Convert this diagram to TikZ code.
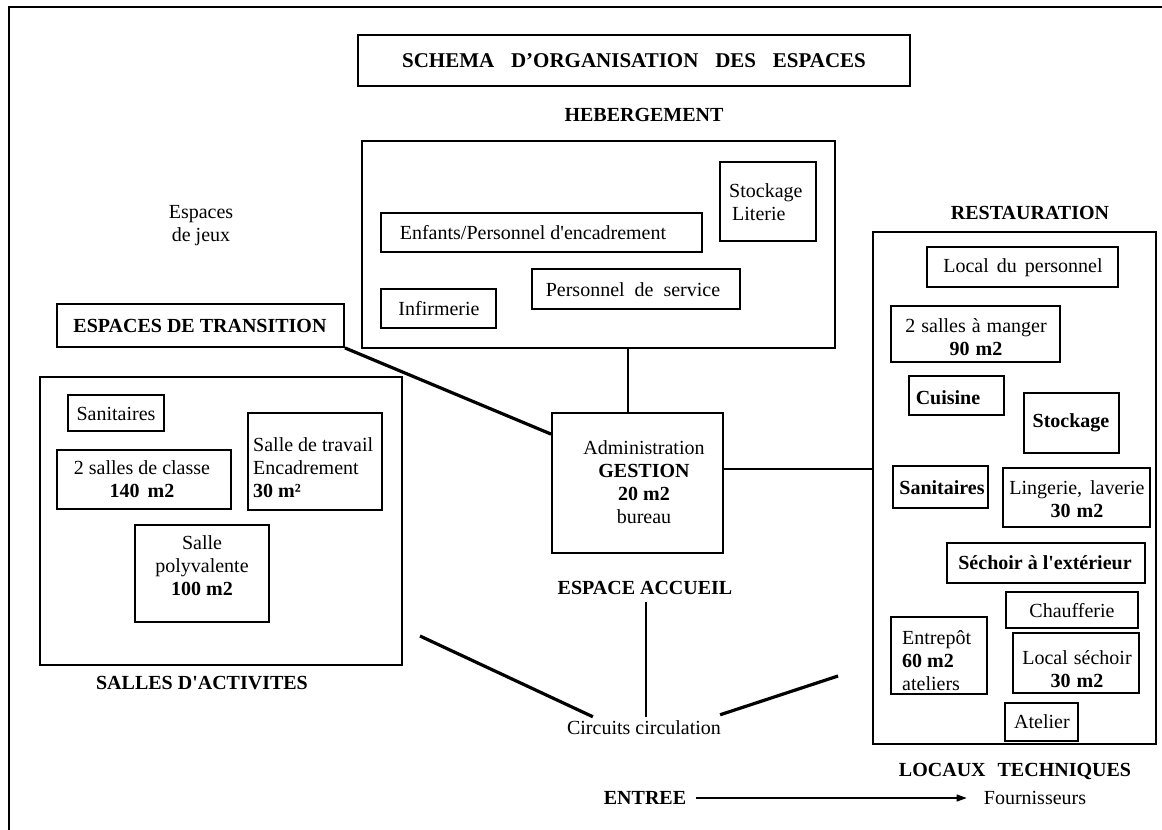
\documentclass[tikz,border=0pt]{standalone}
\usepackage{fontspec}
\setmainfont{Liberation Serif}[Ligatures=TeXOff]
\usetikzlibrary{fit,calc,arrows.meta}
\begin{document}
\begin{tikzpicture}[x=1pt,y=-1pt,
  box/.style={draw, line width=1.8pt, inner sep=0pt},
  txt/.style={inner sep=0pt, font=\fontsize{20}{23}\selectfont, align=center},
  btxt/.style={inner sep=0pt, font=\fontsize{20}{23}\selectfont\bfseries, align=center},
  conn/.style={line width=2pt},
  heavy/.style={line width=3.2pt},
  frameline/.style={line width=1.8pt},
  arr/.style={line width=1.3pt, -{Triangle[length=10pt,width=7pt]}}]
\useasboundingbox (0,0) rectangle (1162,830);
% outer frame (top and left visible)
\draw[frameline] (1162,7) -- (9,7) -- (9,830);

% title
\node[box, fit={(358,35) (910,86)}] (title) {};
\node[btxt, font=\fontsize{21}{23}\selectfont\bfseries] (titletxt) at (title.center) {SCHEMA\hspace{0.8em}D’ORGANISATION\hspace{0.8em}DES\hspace{0.8em}ESPACES};

% hebergement
\node[btxt] (hebl) at (644,115) {HEBERGEMENT};
\node[box, fit={(362,141) (835,348)}] (heb) {};
\node[box, fit={(720,162) (816,241)}] (stockL) {};
\node[txt, align=left, anchor=west] (stockLt) at (729,202) {Stockage\\\hspace{3pt}Literie};
\node[box, fit={(381,213) (702,252)}] (enfants) {};
\node[txt] (enfantst) at (533,233) {Enfants/Personnel d'encadrement};
\node[box, fit={(381,289) (496,328)}] (infirm) {};
\node[txt] (infirmt) at (439,309) {Infirmerie};
\node[box, fit={(532,269) (740,309)}] (persserv) {};
\node[txt] (persservt) at (633,290) {Personnel\hspace{0.5em}de\hspace{0.5em}service};

\node[txt] (jeux) at (201,226) {Espaces\\de jeux};

% transition
\node[box, fit={(57,304) (344,347)}] (trans) {};
\node[btxt] (transt) at (200,326) {ESPACES DE TRANSITION};

% salles d'activites
\node[box, fit={(40,377) (402,665)}] (activ) {};
\node[box, fit={(68,395) (164,431)}] (sanL) {};
\node[txt] (sanLt) at (116,414) {Sanitaires};
\node[box, fit={(57,450) (231,509)}] (classe) {};
\node[txt] (classet) at (142,479) {2 salles de classe\\\textbf{140\hspace{0.4em}m2}};
\node[box, fit={(248,413) (382,510)}] (travail) {};
\node[txt, align=left, anchor=west] (travailt) at (253,468) {Salle de travail\\Encadrement\\\textbf{30 m²}};
\node[box, fit={(135,525) (269,622)}] (poly) {};
\node[txt] (polyt) at (202,566) {Salle\\polyvalente\\\textbf{100 m2}};
\node[btxt] (activl) at (202,683) {SALLES D'ACTIVITES};

% administration
\node[box, fit={(552,413) (723,553)}] (admin) {};
\node[txt] (admint) at (644,482) {Administration\\\textbf{GESTION}\\\textbf{20 m2}\\bureau};
\node[btxt] (accueil) at (645,588) {ESPACE ACCUEIL};
\node[txt] (circ) at (644,728) {Circuits circulation};

% restauration
\node[btxt] (restl) at (1030,213) {RESTAURATION};
\node[box, fit={(873,232) (1156,744)}] (rest) {};
\node[box, fit={(927,247) (1118,287)}] (localp) {};
\node[txt] (localpt) at (1023,268) {Local\hspace{0.4em}du\hspace{0.4em}personnel};
\node[box, fit={(891,306) (1060,362)}] (manger) {};
\node[txt] (mangert) at (976,337) {2\hspace{0.3em}salles\hspace{0.3em}à\hspace{0.3em}manger\\\textbf{90\hspace{0.3em}m2}};
\node[box, fit={(909,376) (1004,415)}] (cuisine) {};
\node[btxt] (cuisinet) at (948,398) {Cuisine};
\node[box, fit={(1024,393) (1119,453)}] (stockR) {};
\node[btxt] (stockRt) at (1071,423) {Stockage};
\node[box, fit={(893,466) (988,508)}] (sanR) {};
\node[btxt] (sanRt) at (942,488) {Sanitaires};
\node[box, fit={(1003,468) (1150,527)}] (linger) {};
\node[txt] (lingert) at (1077,499) {Lingerie,\hspace{0.4em}laverie\\\textbf{30\hspace{0.3em}m2}};
\node[box, fit={(947,543) (1145,583)}] (sechext) {};
\node[btxt] (sechextt) at (1045,563) {Séchoir à l'extérieur};
\node[box, fit={(1006,592) (1138,628)}] (chauf) {};
\node[txt] (chauft) at (1072,611) {Chaufferie};
\node[box, fit={(891,617) (987,694)}] (entrepot) {};
\node[txt, align=left, anchor=west] (entrepott) at (902,661) {Entrepôt\\\textbf{60 m2}\\ateliers};
\node[box, fit={(1013,633) (1139,693)}] (locsech) {};
\node[txt] (locsecht) at (1077,669) {Local\hspace{0.3em}séchoir\\\textbf{30\hspace{0.3em}m2}};
\node[box, fit={(1005,703) (1078,741)}] (atelier) {};
\node[txt] (ateliert) at (1042,722) {Atelier};
\node[btxt] (locaux) at (1015,771) {LOCAUX\hspace{0.6em}TECHNIQUES};

% entree
\node[btxt] (entree) at (645,798) {ENTREE};
\node[txt] (fourn) at (1035,798) {Fournisseurs};

% connectors
\coordinate (vx) at (628,0);
\draw[conn] (heb.south -| vx) -- (admin.north -| vx);
\coordinate (hy) at (0,469);
\draw[conn] (admin.east |- hy) -- (rest.west |- hy);
\draw[heavy] (trans.south east) -- ($(admin.north west)+(0,22)$);
\draw[conn] ($(accueil.south)+(1,7)$) -- ($(circ.north)+(2,-4)$);
\coordinate (dl) at (420,636);
\coordinate (dr) at (838,676);
\draw[heavy] (dl) -- ($(circ.north west)+(26,-4)$);
\draw[heavy] ($(circ.north east)+(-1,-6)$) -- (dr);
\draw[arr, shorten <=10pt, shorten >=17pt] (entree.east) -- (fourn.west);
\end{tikzpicture}
\end{document}
